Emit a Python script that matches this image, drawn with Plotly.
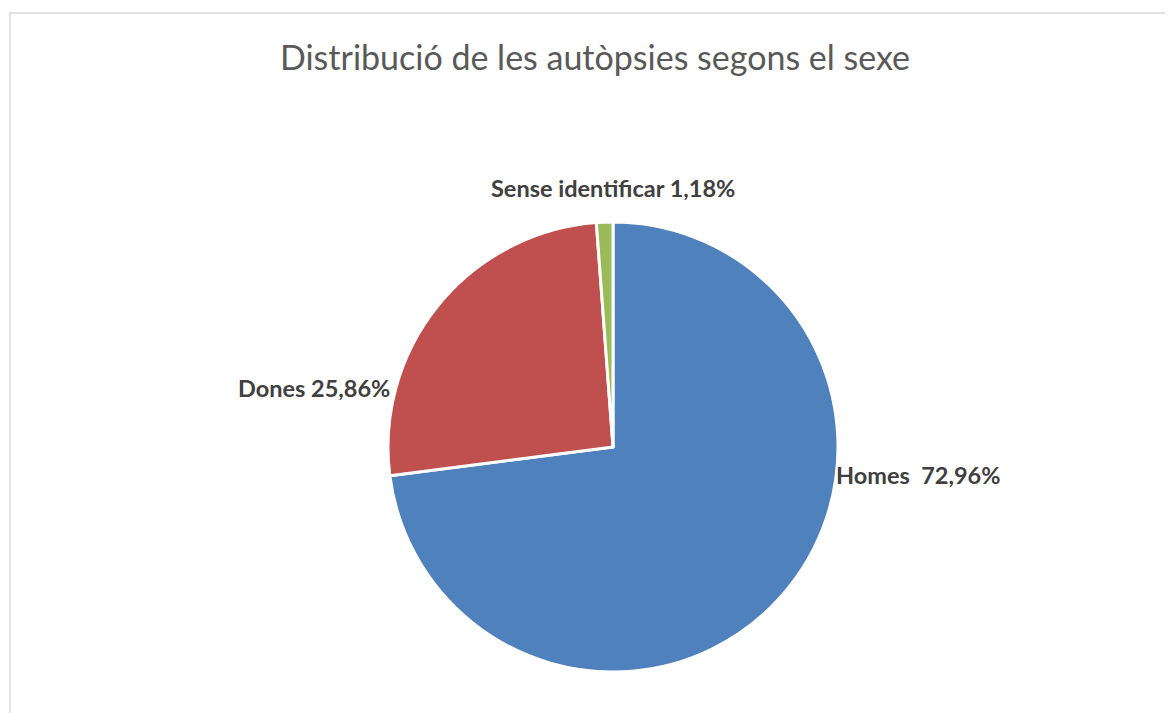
import plotly.graph_objects as go

categories = ["Homes", "Dones", "Sense identificar"]
values = [72.96, 25.86, 1.18]
colors = ["#4F81BD", "#C0504D", "#9BBB59"]
label_texts = ["Homes  72,96%", "Dones 25,86%", "Sense identificar 1,18%"]

W, H = 1173, 713
OFF = 8  # page body margin offset
cx, cy, r = 613 - OFF, 447 - OFF, 225

fig = go.Figure(go.Pie(
    labels=categories,
    values=values,
    sort=False,
    direction="clockwise",
    rotation=0,
    marker=dict(colors=colors, line=dict(color="white", width=3)),
    textinfo="none",
    hoverinfo="label+percent",
    showlegend=False,
    domain=dict(x=[(cx - r) / W, (cx + r) / W], y=[(H - cy - r) / H, (H - cy + r) / H]),
))

label_pos = [(918, 475), (314, 388), (613, 188)]
for txt, (x, y) in zip(label_texts, label_pos):
    fig.add_annotation(
        x=(x - OFF) / W, y=1 - (y - OFF) / H, xref="paper", yref="paper",
        text=f"<b>{txt}</b>", showarrow=False,
        font=dict(family="Lato, Carlito, sans-serif", size=23.5, color="#404040"),
        xanchor="center", yanchor="middle",
    )

fig.add_shape(type="rect", xref="paper", yref="paper",
              x0=(10 - OFF) / W, x1=1.05, y0=-0.05, y1=1 - (13 - OFF) / H,
              line=dict(color="#D9D9D9", width=1.5), fillcolor="rgba(0,0,0,0)")

fig.update_layout(
    width=W, height=H,
    margin=dict(l=0, r=0, t=0, b=0),
    paper_bgcolor="white",
    title=dict(text="Distribució de les autòpsies segons el sexe",
               x=(595 - OFF) / W, xanchor="center", y=1 - (58 - OFF) / H, yanchor="middle",
               font=dict(family="Lato, Carlito, sans-serif", size=34, color="#595959")),
)

fig.write_html("out.html")
